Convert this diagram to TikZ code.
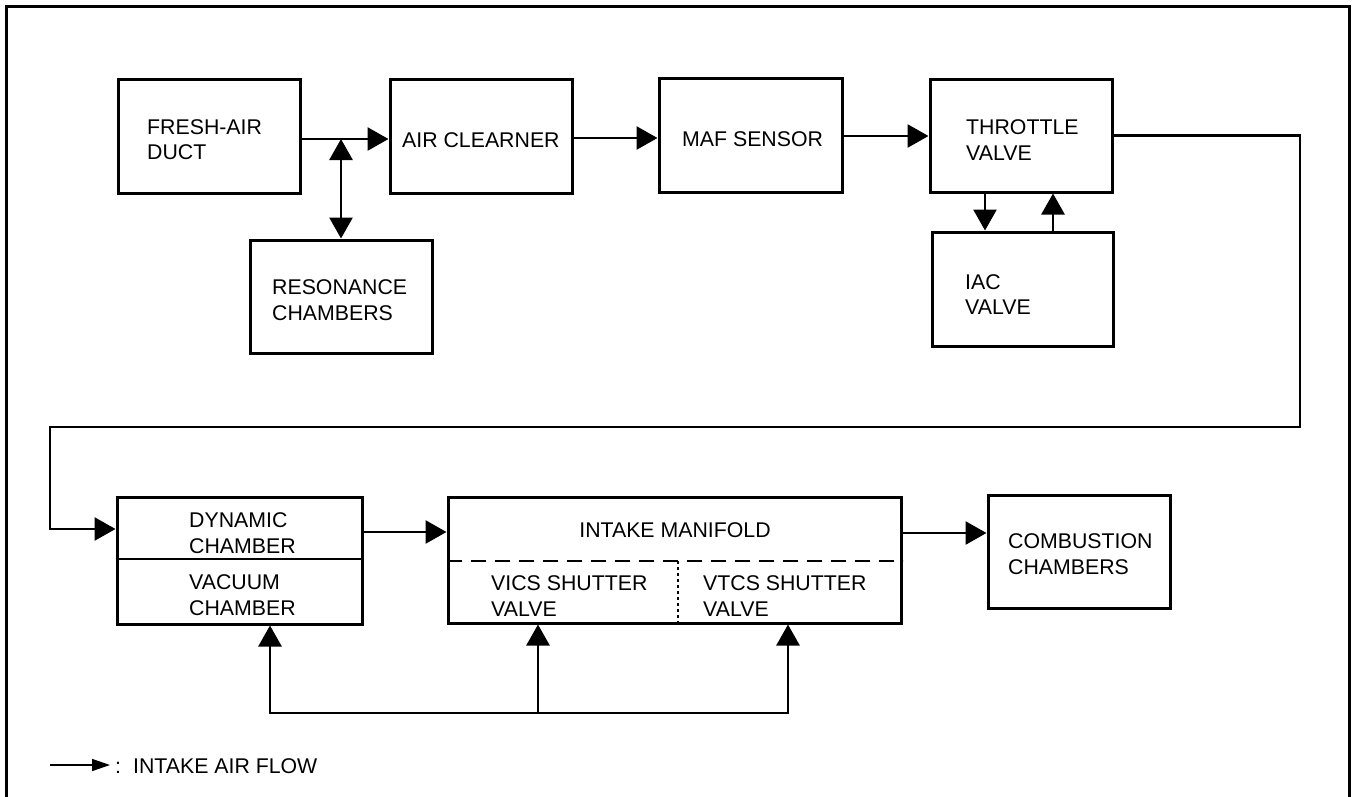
\documentclass[tikz,border=0pt]{standalone}
\usepackage{fontspec}
\setmainfont{Liberation Sans}
\usetikzlibrary{arrows.meta}
\begin{document}
\begin{tikzpicture}[x=1pt,y=1pt,
  box/.style={draw,line width=3pt,inner sep=0pt},
  lbl/.style={inner sep=0pt,anchor=base west,align=left,font=\fontsize{21.3}{25.5}\selectfont},
  flow/.style={line width=2.8pt,-{Triangle[length=21pt,width=23pt]}},
  bflow/.style={line width=2.8pt,{Triangle[length=21pt,width=23pt]}-{Triangle[length=21pt,width=23pt]}}]
\useasboundingbox (0,0) rectangle (1353,-796);
% frame
\draw[line width=3pt] (6,-800) -- (6,-6) -- (1349,-6) -- (1349,-800);
% boxes
\node[box,minimum width=182pt,minimum height=114pt] (fresh) at (209,-136) {};
\node[box,minimum width=182pt,minimum height=114pt] (aircl) at (481,-136) {};
\node[box,minimum width=183pt,minimum height=114pt] (maf) at (750.5,-135) {};
\node[box,minimum width=182pt,minimum height=113pt] (thr) at (1021,-135.5) {};
\node[box,minimum width=181pt,minimum height=114pt] (iac) at (1022.5,-289) {};
\node[box,minimum width=182pt,minimum height=113pt] (res) at (341,-296.5) {};
\node[box,minimum width=245pt,minimum height=127pt] (dyn) at (239.5,-560.5) {};
\node[box,minimum width=453pt,minimum height=126pt] (int) at (674.5,-560) {};
\node[box,minimum width=182pt,minimum height=113pt] (comb) at (1079,-551.5) {};
% inner divisions
\draw[line width=2pt] (dyn.west |- 0,-559) -- (dyn.east |- 0,-559);
\draw[line width=2pt,dash pattern=on 15pt off 9pt] (int.west |- 0,-561) -- (int.east |- 0,-561);
\draw[line width=1.5pt,dash pattern=on 3pt off 3pt] (678,-561) -- (int.south -| 678,0);
% texts (anchor = baseline of the last line)
\node[lbl] (tfresh) at (147,-159.5) {FRESH-AIR\\DUCT};
\node[lbl] (taircl) at (402,-147) {AIR CLEARNER};
\node[lbl] (tmaf) at (682,-146) {MAF SENSOR};
\node[lbl] (tthr) at (966,-160) {THROTTLE\\VALVE};
\node[lbl] (tiac) at (965,-314.5) {IAC\\VALVE};
\node[lbl] (tres) at (272,-320) {RESONANCE\\CHAMBERS};
\node[lbl] (tdyn) at (189,-553) {DYNAMIC\\CHAMBER};
\node[lbl] (tvac) at (189,-615) {VACUUM\\CHAMBER};
\node[lbl,anchor=base] (tint) at (675,-537) {INTAKE MANIFOLD};
\node[lbl] (tvics) at (491,-616) {VICS SHUTTER\\VALVE};
\node[lbl] (tvtcs) at (703,-616) {VTCS SHUTTER\\VALVE};
\node[lbl] (tcomb) at (1008,-574) {COMBUSTION\\CHAMBERS};
% top row connectors
\coordinate (f1) at (fresh.east |- 0,-139);
\coordinate (j) at (341,-139);
\draw[flow] (f1) -- (f1 -| aircl.west);
\draw[bflow] (j) -- (res.north);
\coordinate (a1) at (aircl.east |- 0,-138);
\draw[flow] (a1) -- (a1 -| maf.west);
\coordinate (m1) at (maf.east |- 0,-136);
\draw[flow] (m1) -- (m1 -| thr.west);
% throttle / IAC
\draw[flow] (thr.south -| 985,0) -- (iac.north -| 985,0);
\draw[flow] (iac.north -| 1053,0) -- (thr.south -| 1053,0);
% loop to dynamic chamber
\coordinate (rc) at (1300,-427);
\coordinate (lp) at (50,-529);
\draw[flow] (thr.east) -| (rc) -| (lp) -- (lp -| dyn.west);
% dynamic -> intake -> combustion
\coordinate (d1) at (dyn.east |- 0,-532);
\draw[flow] (d1) -- (d1 -| int.west);
\coordinate (i1) at (int.east |- 0,-533);
\draw[flow] (i1) -- (i1 -| comb.west);
% bottom vacuum lines
\coordinate (b1) at (270,-713);
\coordinate (b2) at (538,-713);
\coordinate (b3) at (788,-713);
\draw[bflow] (b1 |- dyn.south) -- (b1) -- (b3) -- (b3 |- int.south);
\draw[flow] (b2) -- (b2 |- int.south);
% legend
\coordinate (l1) at (50,-765);
\coordinate (l2) at (110,-765);
\draw[line width=1.5pt,-{Triangle[length=18pt,width=12pt]}] (l1) -- (l2);
\node[lbl] (tleg) at (115,-773) {:\hspace{12pt}INTAKE AIR FLOW};
\end{tikzpicture}
\end{document}
